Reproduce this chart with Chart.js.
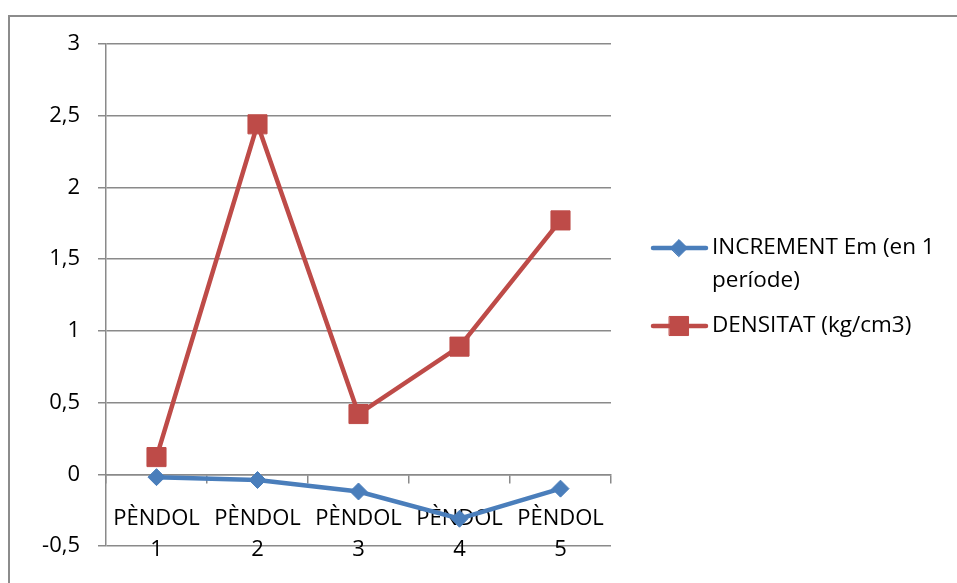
<!DOCTYPE html>
<html>
<head>
<meta charset="utf-8">
<title>PÈNDOL</title>
<script src="https://cdn.jsdelivr.net/npm/chart.js@4/dist/chart.umd.min.js"></script>
<style>
  html, body { margin: 0; padding: 0; background: #fff; }
  #wrap { width: 957px; height: 583px; position: relative; }
</style>
</head>
<body>
<div id="wrap"><canvas id="c" width="957" height="583"></canvas></div>
<script>
// Categories (two-line tick labels) and the two series
const categories = [['PÈNDOL', '1'], ['PÈNDOL', '2'], ['PÈNDOL', '3'], ['PÈNDOL', '4'], ['PÈNDOL', '5']];
const incrementEm = [-0.02, -0.04, -0.12, -0.31, -0.10];
const densitat = [0.12, 2.44, 0.42, 0.89, 1.77];
const legendLines = [['INCREMENT Em (en 1', 'període)'], ['DENSITAT (kg/cm3)']];
const yTicks = [-0.5, 0, 0.5, 1, 1.5, 2, 2.5, 3];

const FONT = '"Open Sans", sans-serif';
const FONT_SIZE = 22;
const LEGEND_FONT_SIZE = 22.5;
const GRID = '#8a8a8a';

// Outer frame (left and top edges)
const framePlugin = {
  id: 'frame',
  beforeDraw(chart) {
    const ctx = chart.ctx;
    ctx.save();
    ctx.strokeStyle = '#8c8c8c';
    ctx.lineWidth = 2;
    ctx.beginPath();
    ctx.moveTo(9, 583);
    ctx.lineTo(9, 16);
    ctx.lineTo(957, 16);
    ctx.stroke();
    ctx.restore();
  }
};

// Legend drawn to the right of the plot, with wrapped text
const sideLegend = {
  id: 'sideLegend',
  afterDraw(chart) {
    const ctx = chart.ctx;
    const rows = [248, 326];
    ctx.save();
    chart.data.datasets.forEach((ds, i) => {
      const y = rows[i];
      ctx.strokeStyle = ds.borderColor;
      ctx.lineWidth = 4.5;
      ctx.lineCap = 'round';
      ctx.beginPath();
      ctx.moveTo(653, y);
      ctx.lineTo(706, y);
      ctx.stroke();
      ctx.fillStyle = ds.pointBackgroundColor;
      ctx.strokeStyle = ds.pointBorderColor;
      ctx.lineWidth = 1;
      Chart.helpers.drawPoint(ctx, {
        pointStyle: ds.pointStyle,
        radius: ds.pointRadius,
        borderWidth: 1
      }, 679, y);
      ctx.font = LEGEND_FONT_SIZE + 'px ' + FONT;
      ctx.textBaseline = 'middle';
      ctx.textAlign = 'left';
      ctx.fillStyle = '#000';
      legendLines[i].forEach((line, k) => {
        ctx.fillText(line, 712, y + k * 33);
      });
    });
    ctx.restore();
  }
};

const blue = '#4a7ebb';
const red = '#be4b48';

new Chart(document.getElementById('c'), {
  type: 'line',
  data: {
    labels: categories,
    datasets: [
      {
        label: legendLines[0].join(' '),
        data: incrementEm,
        borderColor: blue,
        backgroundColor: blue,
        pointBackgroundColor: blue,
        pointBorderColor: blue,
        borderWidth: 4.5,
        pointStyle: 'rectRot',
        pointRadius: 8.5,
        pointBorderWidth: 1,
        tension: 0
      },
      {
        label: legendLines[1].join(' '),
        data: densitat,
        borderColor: red,
        backgroundColor: red,
        pointBackgroundColor: red,
        pointBorderColor: red,
        borderWidth: 4.5,
        pointStyle: 'rect',
        pointRadius: 13.5,
        pointBorderWidth: 1,
        tension: 0
      }
    ]
  },
  options: {
    responsive: false,
    animation: false,
    events: [],
    layout: { padding: { top: 44, bottom: 37, left: 0, right: 346 } },
    plugins: {
      legend: { display: false },
      tooltip: { enabled: false }
    },
    scales: {
      x: {
        type: 'category',
        offset: true,
        position: { y: 0 },
        grid: {
          display: true,
          offset: true,
          drawOnChartArea: false,
          drawTicks: true,
          tickLength: 8,
          color: GRID,
          lineWidth: 1.5
        },
        border: { display: true, color: GRID, width: 1.5 },
        ticks: {
          color: '#000',
          padding: 20,
          maxRotation: 0,
          autoSkip: false,
          font: { family: FONT, size: FONT_SIZE, lineHeight: 1.45 }
        }
      },
      y: {
        min: -0.5,
        max: 3,
        afterFit(scale) { scale.width = 106; },
        afterBuildTicks(scale) { scale.ticks = yTicks.map(v => ({ value: v })); },
        grid: {
          color: GRID,
          lineWidth: 1.5,
          drawTicks: true,
          tickLength: 8
        },
        border: { display: true, color: GRID, width: 1.5 },
        ticks: {
          color: '#000',
          padding: 18,
          font: { family: FONT, size: FONT_SIZE },
          callback: v => String(v).replace('.', ',')
        }
      }
    }
  },
  plugins: [framePlugin, sideLegend]
});
</script>
</body>
</html>
